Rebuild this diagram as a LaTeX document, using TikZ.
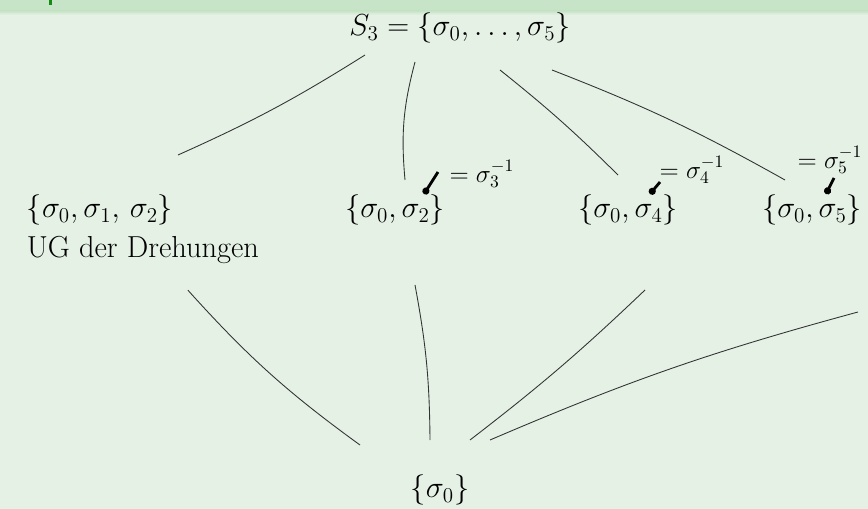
\documentclass[tikz,border=0pt]{standalone}
\usetikzlibrary{positioning,arrows.meta}
\definecolor{paper}{RGB}{229,241,229}
\definecolor{band}{RGB}{200,228,200}
\definecolor{tabgreen}{RGB}{20,140,20}
\begin{document}
\begin{tikzpicture}[x=0.02cm,y=-0.02cm,
  grp/.style={font=\LARGE, inner sep=1pt},
  anno/.style={font=\Large, inner sep=0pt},
  edge/.style={draw=black!80, line width=0.5pt},
  pointer/.style={line width=1.6pt, -{Circle[length=4pt]}}]
\useasboundingbox (0,0) rectangle (868,509);
\fill[paper] (0,0) rectangle (868,509);
\fill[band] (0,0) rectangle (868,11);
\shade[top color=band, bottom color=paper] (0,11) rectangle (868,15);
\fill[tabgreen] (49,0) rectangle (52,5);

\node[grp] (top) at (460,28) {$S_3=\{\sigma_0,\dots,\sigma_5\}$};
\node[grp] (rot) at (100,210) {$\{\sigma_0,\sigma_1,\,\sigma_2\}$};
\node[grp, below=4pt of rot.south west, anchor=north west] (ug) {UG der Drehungen};
\node[grp] (tB) at (395,210) {$\{\sigma_0,\sigma_2\}$};
\node[grp] (tC) at (628,210) {$\{\sigma_0,\sigma_4\}$};
\node[grp] (tD) at (812,210) {$\{\sigma_0,\sigma_5\}$};
\node[grp] (triv) at (440,490) {$\{\sigma_0\}$};

\node[anno] (aB) at (482,174) {$=\sigma_3^{-1}$};
\node[anno] (aC) at (692,170) {$=\sigma_4^{-1}$};
\node[anno] (aD) at (830,160) {$=\sigma_5^{-1}$};

\draw[pointer] ([shift={(-44,-2)}]aB.center) -- ([shift={(29,-16)}]tB.center);
\draw[pointer] ([shift={(-32,12)}]aC.center) -- ([shift={(22,-16)}]tC.center);
\draw[pointer] ([shift={(4,18)}]aD.center) -- ([shift={(14,-16)}]tD.center);

\draw[edge] ([shift={(-95,27)}]top.center) to[bend left=4] ([shift={(78,-55)}]rot.center);
\draw[edge] ([shift={(-45,34)}]top.center) to[bend right=10] ([shift={(10,-30)}]tB.center);
\draw[edge] ([shift={(40,42)}]top.center) to[bend left=3] ([shift={(-10,-35)}]tC.center);
\draw[edge] ([shift={(92,42)}]top.center) to[bend left=4] ([shift={(-27,-30)}]tD.center);

\draw[edge] ([shift={(45,40)}]ug.center) to[bend right=6] ([shift={(-80,-45)}]triv.center);
\draw[edge] ([shift={(20,75)}]tB.center) to[bend left=5] ([shift={(-10,-50)}]triv.center);
\draw[edge] ([shift={(17,80)}]tC.center) to[bend left=3] ([shift={(30,-50)}]triv.center);
\draw[edge] ([shift={(46,102)}]tD.center) to[bend right=4] ([shift={(50,-50)}]triv.center);
\end{tikzpicture}
\end{document}
